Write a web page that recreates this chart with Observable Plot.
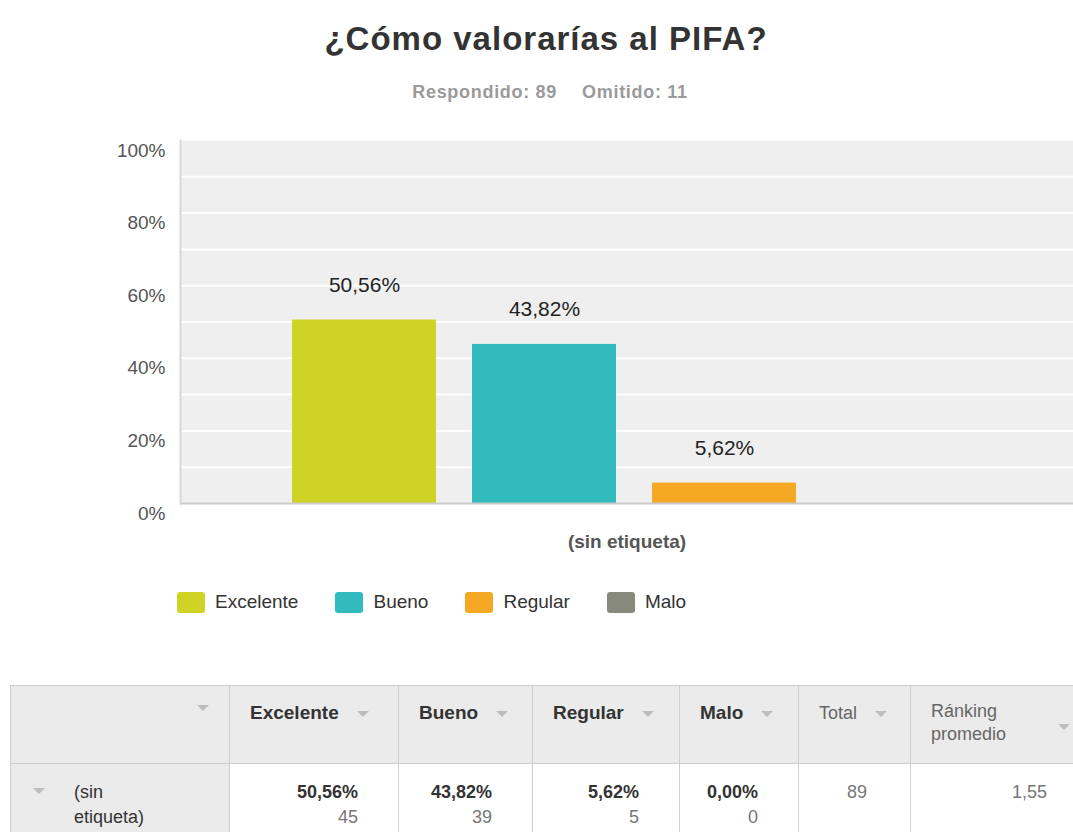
<!DOCTYPE html>
<html>
<head>
<meta charset="utf-8">
<script src="https://cdn.jsdelivr.net/npm/d3@7"></script>
<script src="https://cdn.jsdelivr.net/npm/@observablehq/plot@0.6"></script>
<style>
  html, body { margin: 0; padding: 0; background: #fff; }
  body { width: 1073px; height: 832px; overflow: hidden; position: relative; font-family: "Liberation Sans", Arial, sans-serif; }
  #title { position: absolute; left: 546px; top: 22px; transform: translateX(-50%); white-space: nowrap;
           font-size: 33px; line-height: 33px; font-weight: bold; letter-spacing: 1px; color: #333; }
  #subtitle { position: absolute; left: 550px; top: 83px; transform: translateX(-50%); white-space: nowrap;
              font-size: 18px; line-height: 18px; font-weight: bold; letter-spacing: 0.7px; color: #9a9a9a; }
  #subtitle span + span { margin-left: 25px; }
  #chart { position: absolute; left: 0; top: 130px; }
  #legend { position: absolute; left: 177px; top: 590px; height: 24px; display: flex; align-items: center; }
  .item { display: flex; align-items: center; margin-right: 37px; font-size: 19px; color: #333; }
  .sw { width: 28px; height: 21px; border-radius: 3px; margin-right: 10px; }
  #tbl { position: absolute; left: 10px; top: 685px; border-collapse: collapse; table-layout: fixed; }
  #tbl td, #tbl th { border: 1px solid #cfcfcf; box-sizing: border-box; }
  #tbl th { background: #ebebeb; height: 78px; vertical-align: top; text-align: left; padding: 15px 0 0 20px;
            font-size: 19px; line-height: 24px; color: #333; font-weight: bold; white-space: nowrap; }
  #tbl th.plain { font-weight: normal; color: #666; font-size: 18px; }
  #tbl td { height: 75px; vertical-align: top; padding: 16px 40px 0 0; text-align: right; font-size: 18px; line-height: 25px; background: #fff; }
  #tbl td.rowhead { background: #ebebeb; text-align: left; padding: 16px 0 0 22px; color: #333; }
  .pct { font-weight: bold; color: #333; }
  .cnt { color: #777; }
  .tri { display: inline-block; width: 0; height: 0; border-left: 6px solid transparent; border-right: 6px solid transparent;
         border-top: 6px solid #bdbdbd; vertical-align: middle; }
</style>
</head>
<body>
<div id="title"></div>
<div id="subtitle"></div>
<div id="chart"></div>
<div id="legend"></div>
<table id="tbl"></table>
<script>
// ---- data ----
const titleText = "¿Cómo valorarías al PIFA?";
const answeredLabel = "Respondido: 89";
const omittedLabel = "Omitido: 11";
const groupLabel = "(sin etiqueta)";
const categories = ["Excelente", "Bueno", "Regular", "Malo"];
const percents = [50.56, 43.82, 5.62, 0.00];
const counts = [45, 39, 5, 0];
const colors = ["#CFD326", "#31BBBF", "#F5A823", "#878A7A"];
const yTicks = [0, 20, 40, 60, 80, 100];
const gridTicks = [10, 20, 30, 40, 50, 60, 70, 80, 90];
const totalLabel = "Total";
const totalCount = 89;
const rankingLabel = "Ránking promedio";
const rankingValue = "1,55";

const fmtPct = v => v.toFixed(2).replace(".", ",") + "%";
const rows = categories.map((c, i) => ({group: groupLabel, category: c, pct: percents[i], count: counts[i]}));

document.getElementById("title").textContent = titleText;
document.getElementById("subtitle").innerHTML = `<span>${answeredLabel}</span><span>${omittedLabel}</span>`;

const chart = Plot.plot({
  width: 1073,
  height: 430,
  marginTop: 10,
  marginBottom: 57,
  marginLeft: 180,
  marginRight: 0,
  style: {fontFamily: "'Liberation Sans', Arial, sans-serif", background: "transparent", overflow: "visible"},
  fx: {domain: [groupLabel], padding: 0, label: null},
  x: {domain: categories, paddingInner: 0.2, paddingOuter: 0.567, align: 0.536, axis: null},
  y: {domain: [0, 100], label: null},
  color: {domain: categories, range: colors},
  marks: [
    Plot.frame({fill: "#efefef", stroke: null}),
    Plot.gridY(gridTicks, {stroke: "#ffffff", strokeOpacity: 1, strokeWidth: 2}),
    Plot.barY(rows, {fx: "group", x: "category", y: "pct", fill: "category"}),
    Plot.ruleY([0], {stroke: "#cbcbcb", strokeWidth: 2}),
    Plot.frame({anchor: "left", stroke: "#d8d8d8", strokeWidth: 2}),
    Plot.text(rows.filter(d => d.pct > 0), {fx: "group", x: "category", y: "pct", text: d => fmtPct(d.pct), dy: -35, fontSize: 21, fill: "#222"}),
    Plot.axisY(yTicks, {tickSize: 0, tickPadding: 15, tickFormat: d => d + "%", fontSize: 19, fill: "#555", dy: 10, label: null}),
    Plot.axisFx({anchor: "bottom", tickSize: 0, tickPadding: 31, fontSize: 19, fontWeight: "bold", fill: "#555", label: null})
  ]
});
document.getElementById("chart").appendChild(chart);

// legend
const legend = document.getElementById("legend");
categories.forEach((c, i) => {
  const it = document.createElement("div");
  it.className = "item";
  it.innerHTML = `<span class="sw" style="background:${colors[i]}"></span><span>${c}</span>`;
  legend.appendChild(it);
});

// table
const colWidths = [219, 169, 134, 147, 119, 112, 180];
const tbl = document.getElementById("tbl");
const cg = document.createElement("colgroup");
colWidths.forEach(w => { const col = document.createElement("col"); col.style.width = w + "px"; cg.appendChild(col); });
tbl.appendChild(cg);
tbl.style.width = d3.sum(colWidths) + "px";

let head = `<tr><th style="text-align:right;padding:9px 20px 0 0"><span class="tri"></span></th>`;
categories.forEach(c => { head += `<th>${c}<span class="tri" style="margin-left:18px"></span></th>`; });
head += `<th class="plain">${totalLabel}<span class="tri" style="margin-left:18px"></span></th>`;
head += `<th class="plain" style="white-space:normal;padding-top:14px"><div style="display:flex;align-items:center;justify-content:space-between;padding-right:20px"><span style="max-width:100px;line-height:23px">${rankingLabel}</span><span class="tri" style="margin-top:8px"></span></div></th></tr>`;

let body = `<tr><td class="rowhead"><div style="display:flex;align-items:flex-start"><span class="tri" style="margin-top:8px;margin-right:29px"></span><span style="max-width:100px">${groupLabel}</span></div></td>`;
rows.forEach(r => { body += `<td><div class="pct">${fmtPct(r.pct)}</div><div class="cnt">${r.count}</div></td>`; });
body += `<td class="cnt" style="padding-right:43px">${totalCount}</td>`;
body += `<td class="cnt" style="padding-right:43px">${rankingValue}</td></tr>`;
tbl.innerHTML += head + body;
</script>
</body>
</html>
